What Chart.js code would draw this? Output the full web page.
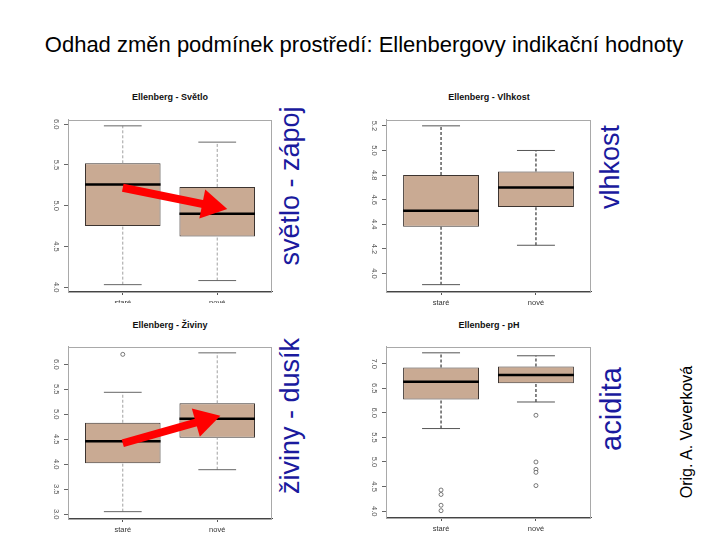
<!DOCTYPE html>
<html><head><meta charset="utf-8">
<script src="https://cdn.jsdelivr.net/npm/chart.js@4.4.1/dist/chart.umd.min.js"></script>
<style>
html,body{margin:0;padding:0;background:#fff}
body{width:720px;height:540px;position:relative;overflow:hidden;font-family:'Liberation Sans',Arial,sans-serif}
canvas.c{position:absolute}
.t{position:absolute;white-space:nowrap;transform:translate(-50%,-50%);line-height:1}
.rot{position:absolute;white-space:nowrap;transform:translate(-50%,-50%) rotate(-90deg);line-height:1}
.side{color:#1a1a9e;font-size:27px}
.pt{font-weight:bold;font-size:9px;color:#111}
</style></head><body>
<div class="t" style="left:364px;top:45px;font-size:22px;color:#000">Odhad změn podmínek prostředí: Ellenbergovy indikační hodnoty</div>
<div class="t pt" style="left:170px;top:97px">Ellenberg - Světlo</div>
<div class="t pt" style="left:489px;top:97px">Ellenberg - Vlhkost</div>
<div class="t pt" style="left:170px;top:325px">Ellenberg - Živiny</div>
<div class="t pt" style="left:489px;top:325px">Ellenberg - pH</div>
<div class="rot side" style="left:290px;top:186px">světlo - zápoj</div>
<div class="rot side" style="left:610px;top:167px">vlhkost</div>
<div class="rot side" style="left:290px;top:416px">živiny - dusík</div>
<div class="rot side" style="left:611px;top:409px;font-size:29px">acidita</div>
<div class="rot" style="left:687px;top:432px;font-size:16px;color:#000">Orig. A. Veverková</div>

<canvas class="c" id="c1" width="234" height="191" style="left:40px;top:112px"></canvas>
<canvas class="c" id="c2" width="235" height="203" style="left:358px;top:112px"></canvas>
<canvas class="c" id="c3" width="234" height="203" style="left:40px;top:339px"></canvas>
<canvas class="c" id="c4" width="235" height="201" style="left:358px;top:339px"></canvas>

<script>
// ---------- data ----------
const categories = ['staré', 'nové'];

const svetloMin = [4.03, 4.08];
const svetloQ1  = [4.75, 4.62];
const svetloMed = [5.26, 4.90];
const svetloQ3  = [5.52, 5.23];
const svetloMax = [5.98, 5.78];
const svetloOutStare = [];
const svetloOutNove = [];
const svetloTicks = [4.0, 4.5, 5.0, 5.5, 6.0];
const svetloArrowX = [1.0, 1.93];
const svetloArrowY = [5.22, 5.00];

const vlhkostMin = [3.91, 4.23];
const vlhkostQ1  = [4.38, 4.54];
const vlhkostMed = [4.51, 4.70];
const vlhkostQ3  = [4.80, 4.83];
const vlhkostMax = [5.20, 5.00];
const vlhkostOutStare = [];
const vlhkostOutNove = [];
const vlhkostTicks = [4.0, 4.2, 4.4, 4.6, 4.8, 5.0, 5.2];

const zivinyMin = [3.05, 3.89];
const zivinyQ1  = [4.02, 4.53];
const zivinyMed = [4.46, 4.91];
const zivinyQ3  = [4.83, 5.22];
const zivinyMax = [5.44, 6.23];
const zivinyOutStare = [6.20];
const zivinyOutNove = [];
const zivinyTicks = [3.0, 3.5, 4.0, 4.5, 5.0, 5.5, 6.0];
const zivinyArrowX = [1.0, 1.86];
const zivinyArrowY = [4.42, 4.88];

const phMin = [5.68, 6.22];
const phQ1  = [6.27, 6.60];
const phMed = [6.63, 6.77];
const phQ3  = [6.92, 6.94];
const phMax = [7.22, 7.16];
const phOutStare = [4.43, 4.34, 4.12, 4.01];
const phOutNove = [5.95, 5.00, 4.85, 4.79, 4.52];
const phTicks = [4.0, 4.5, 5.0, 5.5, 6.0, 6.5, 7.0];

// ---------- drawing ----------
const FONT = "'Liberation Sans', Arial, sans-serif";
const BOX_FILL = '#c9aa93';
const HALF_BOX = 0.4, HALF_CAP = 0.2;

const framePlugin = {
  id: 'frame',
  beforeDatasetsDraw(chart) {
    const a = chart.chartArea, c = chart.ctx;
    c.save();
    c.strokeStyle = '#a9a9a9';
    c.lineWidth = 1;
    c.strokeRect(Math.round(a.left) + 0.5, Math.round(a.top) + 0.5, Math.round(a.right - a.left) - 1, Math.round(a.bottom - a.top));
    c.restore();
  }
};

function makePanel(id, d, st) {
  const xs = categories.map((_, i) => i + 1);
  const all = [...d.min, ...d.max, ...d.outS, ...d.outN];
  const lo = Math.min(...all), hi = Math.max(...all), ext = (hi - lo) * 0.04;

  const whisk = [], caps = [], meds = [];
  xs.forEach((x, i) => {
    whisk.push({x, y: d.min[i]}, {x, y: d.q1[i]}, {x, y: null}, {x, y: d.q3[i]}, {x, y: d.max[i]}, {x, y: null});
    caps.push({x: x - HALF_CAP, y: d.min[i]}, {x: x + HALF_CAP, y: d.min[i]}, {x, y: null},
              {x: x - HALF_CAP, y: d.max[i]}, {x: x + HALF_CAP, y: d.max[i]}, {x, y: null});
    meds.push({x: x - HALF_BOX, y: d.med[i]}, {x: x + HALF_BOX, y: d.med[i]}, {x, y: null});
  });
  const outs = [...d.outS.map(v => ({x: 1, y: v})), ...d.outN.map(v => ({x: 2, y: v}))];

  const datasets = [
    {type: 'bar', data: xs.map((x, i) => ({x, y: [d.q1[i], d.q3[i]]})),
     backgroundColor: BOX_FILL, borderColor: '#3c3430', borderWidth: 1, borderSkipped: false,
     barPercentage: 0.8, categoryPercentage: 1, order: 6},
    {type: 'line', data: whisk, borderColor: st.wc, borderWidth: st.ww, borderDash: st.dash,
     pointRadius: 0, spanGaps: false, fill: false, order: 5},
    {type: 'line', data: caps, borderColor: st.cc, borderWidth: 1, pointRadius: 0, spanGaps: false, fill: false, order: 4},
    {type: 'line', data: meds, borderColor: '#000', borderWidth: 2.5, borderCapStyle: 'butt', pointRadius: 0, spanGaps: false, fill: false, order: 3},
    {type: 'line', data: outs, showLine: false, pointRadius: 2, pointStyle: 'circle',
     pointBackgroundColor: '#fff', pointBorderColor: '#444', pointBorderWidth: 0.7, order: 2}
  ];
  if (d.ax) {
    datasets.push({
      type: 'line', data: d.ax.map((x, i) => ({x, y: d.ay[i]})),
      borderColor: '#ff0000', borderWidth: 8, borderCapStyle: 'butt', fill: false, order: 1,
      pointRadius: [0, 17], pointStyle: 'triangle', pointBackgroundColor: '#ff0000', pointBorderWidth: 0,
      pointRotation: (ctx) => {
        const sx = ctx.chart.scales.x, sy = ctx.chart.scales.y;
        const dx = sx.getPixelForValue(d.ax[1]) - sx.getPixelForValue(d.ax[0]);
        const dy = sy.getPixelForValue(d.ay[1]) - sy.getPixelForValue(d.ay[0]);
        return Math.atan2(dx, -dy) * 180 / Math.PI;
      }
    });
  }

  new Chart(document.getElementById(id), {
    type: 'bar',
    data: {datasets},
    plugins: [framePlugin],
    options: {
      responsive: false, animation: false, events: [],
      layout: {autoPadding: false, padding: {top: 2, right: 2, left: 0, bottom: 0}},
      plugins: {legend: {display: false}, tooltip: {enabled: false}, title: {display: false}},
      scales: {
        x: {type: 'linear', min: 0.42, max: 2.58, offset: false,
            afterBuildTicks: s => { s.ticks = xs.map(v => ({value: v})); },
            afterFit: s => { s.height = st.xh; },
            ticks: {callback: v => categories[v - 1], autoSkip: false, maxRotation: 0, padding: 3,
                    font: {family: FONT, size: 7.5}, color: '#333'},
            grid: {drawOnChartArea: false, offset: false, tickLength: 4, color: '#555'},
            border: {display: true, color: '#444', width: 1}},
        y: {type: 'linear', min: lo - ext, max: hi + ext,
            afterBuildTicks: s => { s.ticks = d.ticks.map(v => ({value: v})); },
            afterFit: s => { s.width = 28; },
            ticks: {callback: v => v.toFixed(1), minRotation: -90, maxRotation: -90, crossAlign: 'center',
                    padding: 3, font: {family: FONT, size: 7.5}, color: '#555'},
            grid: {drawOnChartArea: false, tickLength: 4, color: '#666'},
            border: {display: true, color: '#a9a9a9', width: 1}}
      }
    }
  });
}

makePanel('c1', {min: svetloMin, q1: svetloQ1, med: svetloMed, q3: svetloQ3, max: svetloMax,
  outS: svetloOutStare, outN: svetloOutNove, ticks: svetloTicks, ax: svetloArrowX, ay: svetloArrowY},
  {wc: '#a0a0a0', ww: 1, dash: [3, 2], cc: '#666', xh: 12});
makePanel('c2', {min: vlhkostMin, q1: vlhkostQ1, med: vlhkostMed, q3: vlhkostQ3, max: vlhkostMax,
  outS: vlhkostOutStare, outN: vlhkostOutNove, ticks: vlhkostTicks},
  {wc: '#444', ww: 1.3, dash: [3, 2], cc: '#555', xh: 24});
makePanel('c3', {min: zivinyMin, q1: zivinyQ1, med: zivinyMed, q3: zivinyQ3, max: zivinyMax,
  outS: zivinyOutStare, outN: zivinyOutNove, ticks: zivinyTicks, ax: zivinyArrowX, ay: zivinyArrowY},
  {wc: '#a0a0a0', ww: 1, dash: [3, 2], cc: '#666', xh: 24});
makePanel('c4', {min: phMin, q1: phQ1, med: phMed, q3: phQ3, max: phMax,
  outS: phOutStare, outN: phOutNove, ticks: phTicks},
  {wc: '#444', ww: 1.3, dash: [3, 2], cc: '#555', xh: 23});
</script>
</body></html>
